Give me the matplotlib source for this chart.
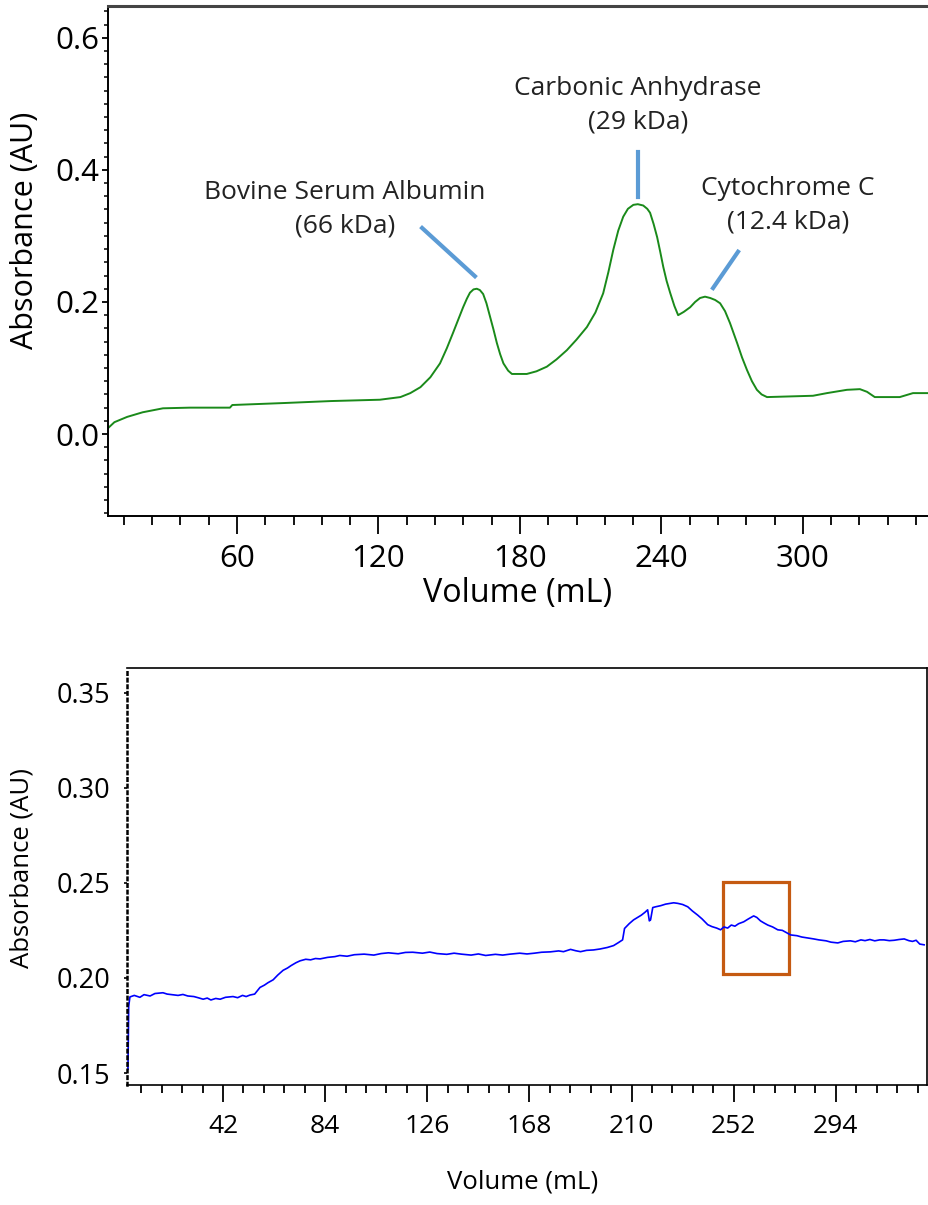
import matplotlib.pyplot as plt
from matplotlib.patches import Rectangle
from matplotlib.ticker import MultipleLocator, FormatStrFormatter

plt.rcParams['font.family'] = ['Open Sans', 'DejaVu Sans']

# top chromatogram: protein standards
top_vol = [5.3, 8, 13.4, 20, 28.6, 40, 57, 58, 80, 100,
           120.6, 129.3, 133.5, 137.8, 142, 146.1, 149, 151.6, 153.8, 155.9,
           157.5, 158.8, 160.3, 161.7, 163, 164.4, 165.8, 167.3, 168.8, 170.2,
           171.6, 173, 175, 176.6, 182.9, 187, 191.4, 195.5, 199.9, 204,
           208.4, 212, 215.3, 217.5, 219.6, 221.7, 223.8, 225.8, 228.1, 230,
           232.3, 234, 235.2, 236.7, 238.2, 239.5, 240.8, 242.2, 243.7, 245.5,
           247.1, 249.5, 252.2, 254.3, 256.4, 258.5, 260.7, 262.8, 264.9, 267,
           269.1, 270.6, 272.1, 274.2, 276.3, 278.4, 280.5, 282.5, 284.8, 304.3,
           310.2, 318.7, 324.2, 327.2, 330.5, 341.1, 346.7, 353.5]
top_abs = [0.009, 0.018, 0.026, 0.033, 0.039, 0.040, 0.040, 0.044, 0.047, 0.050,
           0.052, 0.056, 0.062, 0.071, 0.086, 0.107, 0.130, 0.153, 0.173, 0.192,
           0.205, 0.214, 0.219, 0.220, 0.218, 0.212, 0.198, 0.178, 0.158, 0.138,
           0.121, 0.107, 0.096, 0.091, 0.091, 0.095, 0.102, 0.113, 0.127, 0.143,
           0.162, 0.184, 0.213, 0.245, 0.279, 0.308, 0.329, 0.341, 0.347, 0.348,
           0.346, 0.341, 0.335, 0.318, 0.298, 0.276, 0.253, 0.232, 0.214, 0.194,
           0.180, 0.185, 0.192, 0.200, 0.206, 0.208, 0.206, 0.203, 0.198, 0.186,
           0.168, 0.153, 0.138, 0.116, 0.097, 0.080, 0.067, 0.060, 0.056, 0.058,
           0.062, 0.067, 0.068, 0.064, 0.056, 0.056, 0.062, 0.062]

peak_labels = ['Bovine Serum Albumin\n(66 kDa)', 'Carbonic Anhydrase\n(29 kDa)',
               'Cytochrome C\n(12.4 kDa)']
label_x = [105.8, 230, 293.7]
label_y = [0.341, 0.498, 0.347]
pointer_x = [(138.5, 160.9), (230, 230), (272.5, 261.9)]
pointer_y = [(0.312, 0.239), (0.427, 0.359), (0.276, 0.221)]

# bottom chromatogram: sample
bot_vol = [2.9, 3.2, 3.7, 5.5, 7.8, 9.5, 12, 14, 17.3, 19,
           21, 23.5, 25.5, 27.5, 30, 32, 33.8, 35.5, 37, 39,
           40.8, 43, 46.1, 48, 50, 51.5, 53.1, 55, 57.2, 59,
           60.5, 62.6, 64.5, 66.7, 68.5, 70, 72, 73.7, 76, 78,
           80, 81.9, 85, 88, 90, 93, 96, 100, 104, 107,
           110, 114, 117, 120, 124, 127, 130, 134, 137, 140,
           144, 147, 150, 154, 157, 160, 164, 167, 170, 173,
           176.6, 180, 182, 184.9, 187, 189, 191.5, 194.3, 197, 200,
           202.6, 204.5, 206.3, 207.1, 209, 210.8, 212.5, 214, 215.5, 216.6,
           217.3, 217.8, 218.7, 219.9, 222, 224, 226, 227.3, 229, 231,
           233.1, 235, 237.2, 239, 241.3, 243, 245, 246.6, 248, 249.5,
           251, 252.5, 254, 256.1, 258, 260.2, 261.5, 263, 264.3, 266,
           268, 270.1, 272, 274, 275.4, 278, 280, 282.5, 284.9, 287,
           290, 292, 294.8, 297, 300, 302, 304.3, 306, 308, 310,
           312, 313.8, 316, 318, 320, 322.1, 324, 325.5, 327, 328.5,
           330.3]
bot_abs = [0.152, 0.185, 0.190, 0.1908, 0.1898, 0.1912, 0.1905, 0.1918, 0.1922, 0.1915,
           0.1912, 0.1908, 0.1913, 0.1905, 0.1902, 0.1895, 0.1888, 0.1894, 0.1884, 0.1892,
           0.1888, 0.1898, 0.1902, 0.1896, 0.1908, 0.1902, 0.1910, 0.1915, 0.1950, 0.1962,
           0.1975, 0.1990, 0.2015, 0.2040, 0.2052, 0.2065, 0.2080, 0.2090, 0.2098, 0.2095,
           0.2102, 0.2100, 0.2108, 0.2112, 0.2118, 0.2114, 0.2122, 0.2125, 0.2120, 0.2128,
           0.2132, 0.2127, 0.2134, 0.2135, 0.2130, 0.2136, 0.2128, 0.2124, 0.2130, 0.2125,
           0.2120, 0.2126, 0.2118, 0.2124, 0.2120, 0.2125, 0.2130, 0.2126, 0.2130, 0.2135,
           0.2137, 0.2142, 0.2138, 0.2150, 0.2143, 0.2138, 0.2145, 0.2147, 0.2152, 0.2160,
           0.2170, 0.2185, 0.2200, 0.2260, 0.2285, 0.2305, 0.2318, 0.2330, 0.2345, 0.2358,
           0.2300, 0.2305, 0.2370, 0.2374, 0.2380, 0.2388, 0.2392, 0.2395, 0.2392, 0.2386,
           0.2374, 0.2352, 0.2330, 0.2310, 0.2280, 0.2270, 0.2262, 0.2253, 0.2268, 0.2262,
           0.2278, 0.2272, 0.2285, 0.2295, 0.2310, 0.2326, 0.2318, 0.2300, 0.2290, 0.2278,
           0.2268, 0.2253, 0.2250, 0.2236, 0.2226, 0.2222, 0.2215, 0.2210, 0.2205, 0.2200,
           0.2195, 0.2188, 0.2184, 0.2192, 0.2195, 0.2190, 0.2200, 0.2196, 0.2202, 0.2195,
           0.2200, 0.2200, 0.2196, 0.2198, 0.2202, 0.2205, 0.2196, 0.2192, 0.2198, 0.2178,
           0.2174]

box_x = (247.6, 274.8)
box_y = (0.2021, 0.2505)

fig = plt.figure(figsize=(9.29, 12.05), dpi=100)

# ---- top panel ----
ax1 = fig.add_axes([0.1163, 0.5718, 0.8837, 0.4232])
ax1.plot(top_vol, top_abs, color='#1a8a1a', lw=1.4)
for t, x, y in zip(peak_labels, label_x, label_y):
    ax1.text(x, y, t, ha='center', va='center', fontsize=19, linespacing=1.45,
             color='#222222')
for xs, ys in zip(pointer_x, pointer_y):
    ax1.plot(xs, ys, color='#5B9BD5', lw=3)

ax1.set_xlim(5.3, 353.5)
ax1.set_ylim(-0.124, 0.648)
ax1.xaxis.set_minor_locator(MultipleLocator(12))
ax1.yaxis.set_major_locator(MultipleLocator(0.2))
ax1.yaxis.set_minor_locator(MultipleLocator(0.02))
ax1.yaxis.set_major_formatter(FormatStrFormatter('%.1f'))
ax1.set_xticks([60, 120, 180, 240, 300])
ax1.tick_params(axis='x', which='major', length=13, width=1.3, labelsize=22.5, pad=7)
ax1.tick_params(axis='x', which='minor', length=6.5, width=1.3)
ax1.tick_params(axis='y', which='major', length=4.5, width=1.3, labelsize=22.5, pad=2)
ax1.tick_params(axis='y', which='minor', length=3, width=1.1)
ax1.spines['right'].set_visible(False)
ax1.spines['top'].set_color('#444444')
ax1.spines['top'].set_linewidth(2.2)
ax1.spines['left'].set_linewidth(1.4)
ax1.spines['bottom'].set_linewidth(1.4)
ax1.set_xlabel('Volume (mL)', fontsize=23.3, va='center')
ax1.xaxis.set_label_coords(0.499, -0.152)
ax1.set_ylabel('Absorbance (AU)', fontsize=22, va='center')
ax1.yaxis.set_label_coords(-0.101, 0.561)

# ---- bottom panel ----
ax2 = fig.add_axes([0.1367, 0.0996, 0.8612, 0.3461])
ax2.plot(bot_vol, bot_abs, color='#0000ff', lw=1.2)
ax2.add_patch(Rectangle((box_x[0], box_y[0]), box_x[1] - box_x[0], box_y[1] - box_y[0],
                        fill=False, edgecolor='#C55A11', lw=2.3))

ax2.set_xlim(2.5, 331.5)
ax2.set_ylim(0.1437, 0.363)
ax2.set_xticks([42, 84, 126, 168, 210, 252, 294])
ax2.xaxis.set_minor_locator(MultipleLocator(8.4))
ax2.set_yticks([0.15, 0.20, 0.25, 0.30, 0.35])
ax2.yaxis.set_major_formatter(FormatStrFormatter('%.2f'))
ax2.tick_params(axis='x', which='major', length=12, width=1.3, labelsize=19, pad=9)
ax2.tick_params(axis='x', which='minor', length=6, width=1.3)
ax2.tick_params(axis='y', which='major', length=2, width=1.2, labelsize=19.5, pad=10)
for side in ['top', 'right', 'bottom']:
    ax2.spines[side].set_linewidth(1.2)
ax2.spines['left'].set_linestyle(':')
ax2.spines['left'].set_linewidth(1.8)
ax2.set_xlabel('Volume (mL)', fontsize=18.5, va='center')
ax2.xaxis.set_label_coords(0.494, -0.233)
ax2.set_ylabel('Absorbance (AU)', fontsize=18.5, va='center')
ax2.yaxis.set_label_coords(-0.131, 0.52)

fig.savefig('out.png', dpi=100)
